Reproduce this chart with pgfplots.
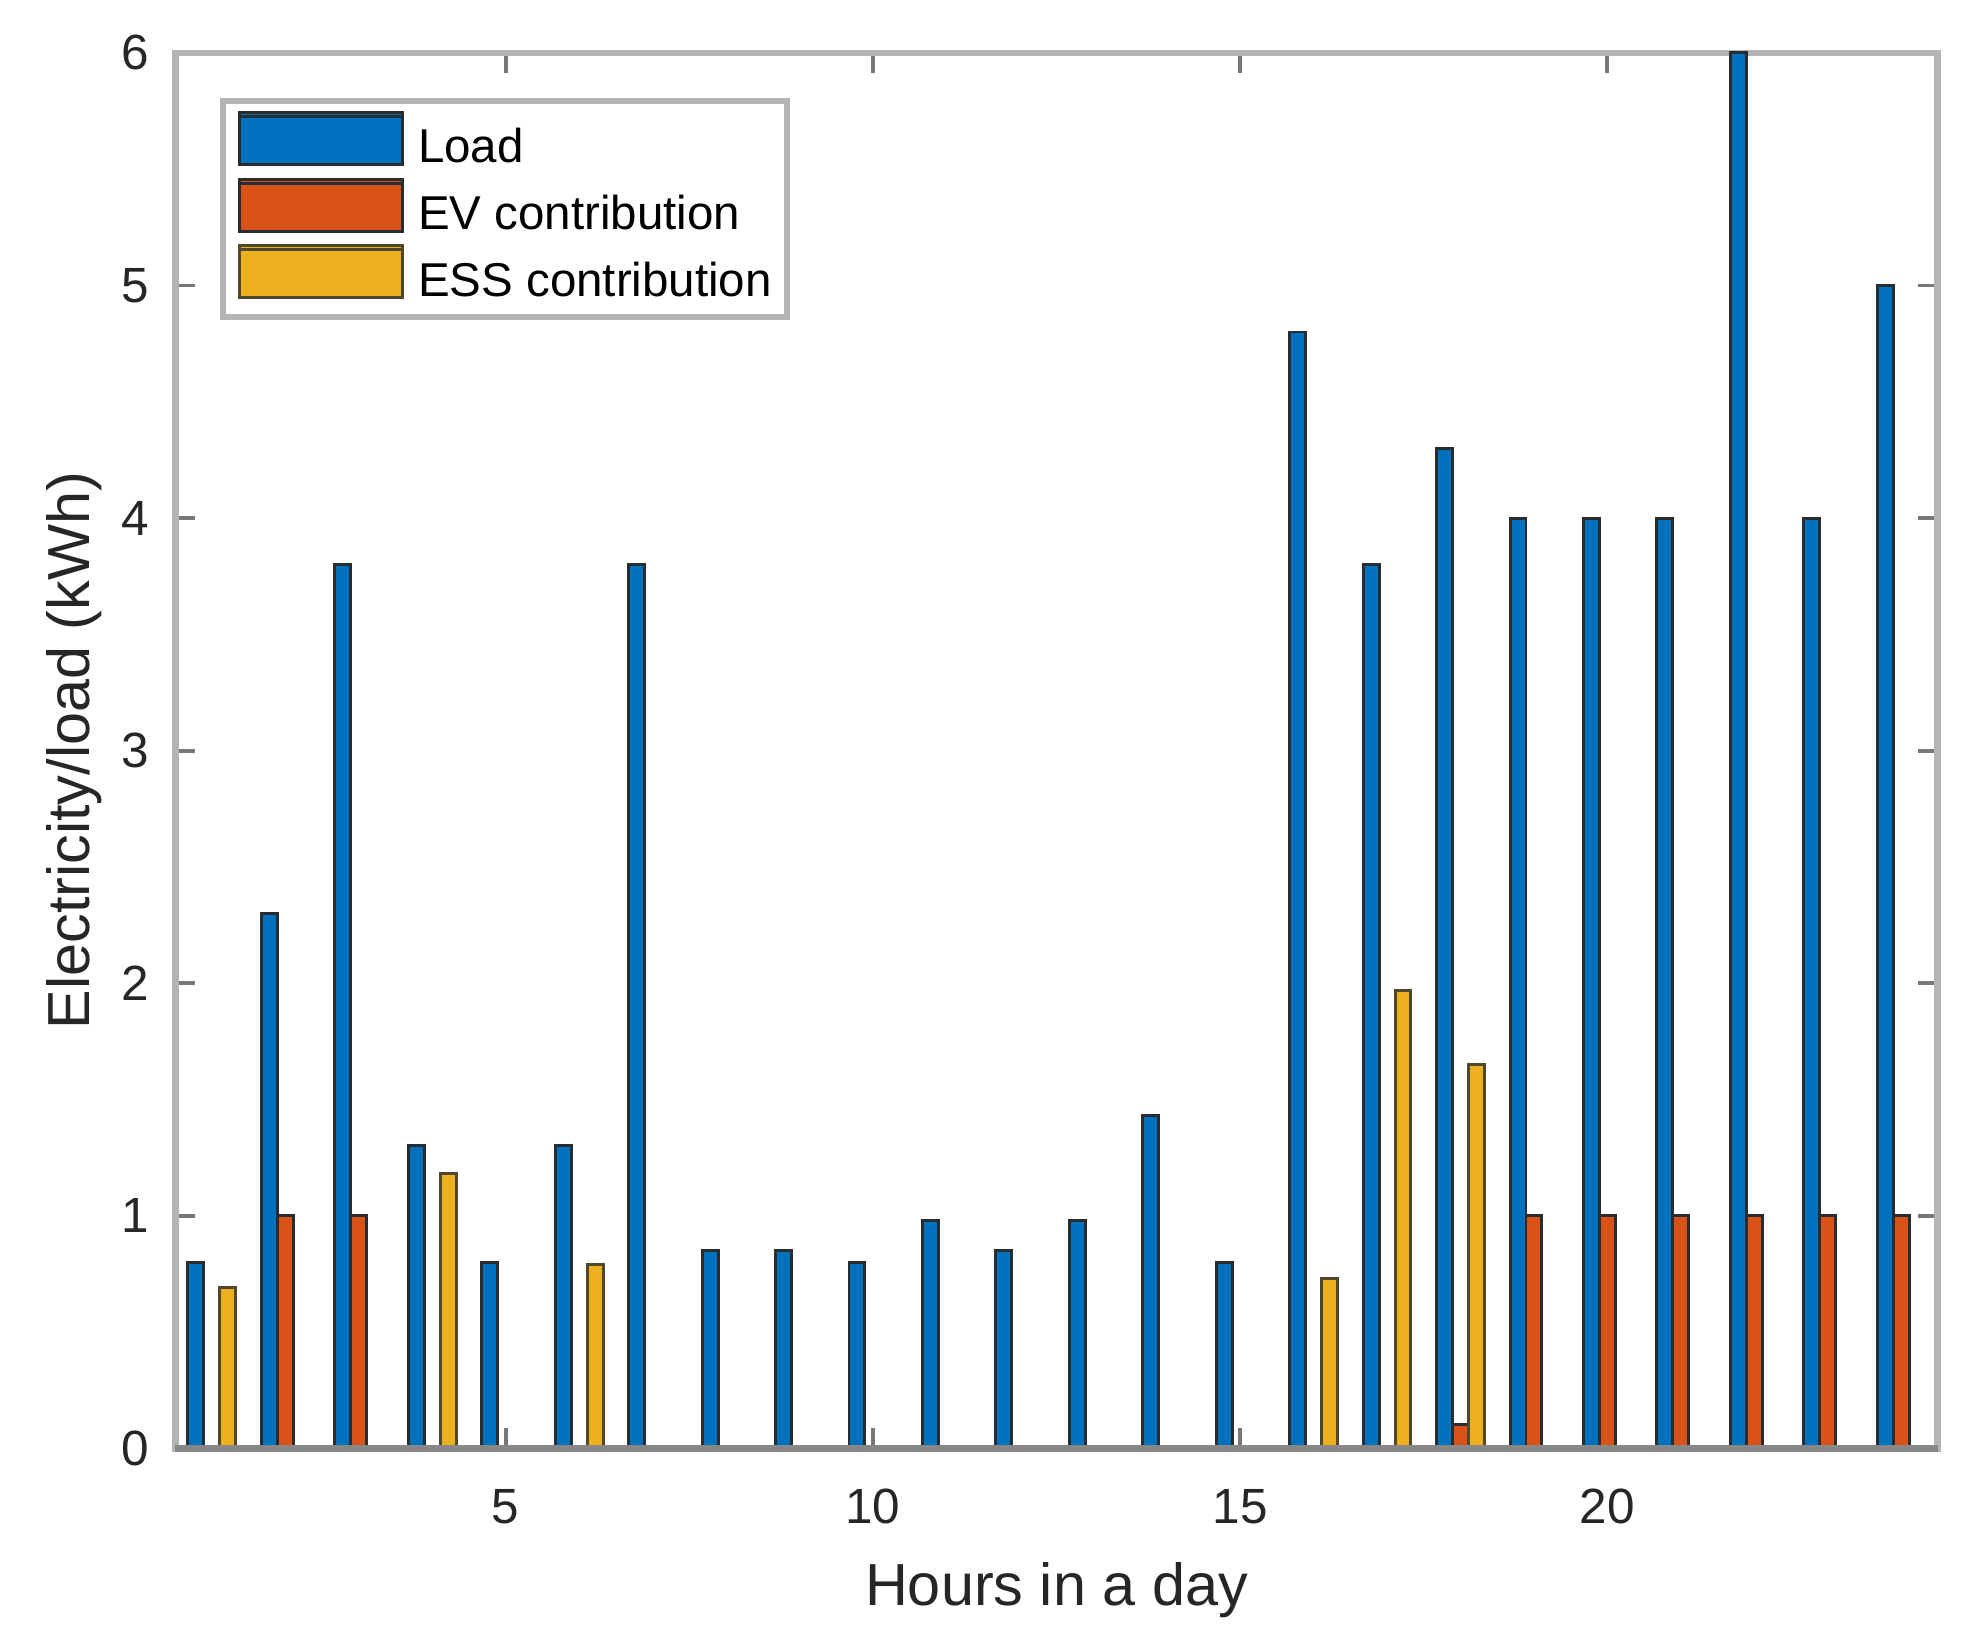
\documentclass[border=0pt]{standalone}
\usepackage{fontspec}
\setmainfont{Liberation Sans}
\usepackage{pgfplots}
\pgfplotsset{compat=1.18}
\definecolor{cLoad}{RGB}{0,114,189}
\definecolor{cEV}{RGB}{217,83,25}
\definecolor{cESS}{RGB}{237,177,32}
\definecolor{frame}{RGB}{180,180,180}
\definecolor{basec}{RGB}{136,136,136}
\definecolor{tickc}{RGB}{120,120,120}
\definecolor{txt}{RGB}{38,38,38}
\definecolor{edge}{RGB}{40,45,50}
\begin{document}
\begin{tikzpicture}
\begin{axis}[
  ybar, bar width=0.217,
  at={(0,0)}, anchor=south west,
  scale only axis, width=356.3pt, height=282pt,
  xmin=0.5, xmax=24.5, ymin=0, ymax=6,
  clip=false,
  xtick={5,10,15,20}, ytick={0,1,2,3,4,5,6},
  tick align=inside, xtick align=inside, ytick align=inside,
  major tick length=4pt,
  xtick pos=both, ytick pos=both,
  major tick style={draw=tickc, line width=0.8pt},
  axis line style={draw=frame, line width=1.4pt},
  /pgf/number format/assume math mode=true,
  tick label style={font=\fontsize{10}{12}\selectfont, text=txt},
  xticklabel style={anchor=base, yshift=-15.2pt},
  yticklabel style={anchor=east, inner sep=0pt, xshift=-5pt},
  xlabel={Hours in a day},
  ylabel={Electricity/load (kWh)},
  label style={font=\fontsize{12}{14}\selectfont, text=txt},
  xlabel style={at={(axis description cs:0.5,-0.1131)}, anchor=base},
  ylabel style={at={(axis description cs:-0.0488,0.5)}, anchor=base},
  legend style={at={(axis description cs:0,1)}, anchor=north west,
    xshift=9.1pt, yshift=-9.1pt, draw=frame, line width=1.2pt,
    font=\fontsize{9.6}{11}\selectfont, inner xsep=3pt, inner ysep=1.55pt,
    column sep=2.8pt, row sep=0pt,
    nodes={inner sep=0pt, outer sep=0pt, text height=10.95pt, text depth=2.55pt}},
  legend cell align=left,
  legend image code/.code={\path (0pt,0pt) rectangle (33pt,6pt); \draw[#1, line width=0.6pt, overlay] (0pt,-4.5pt) rectangle (33pt,5.2pt);},
]
\addplot[fill=cLoad, draw=edge, line width=0.6pt, bar shift=-0.217] coordinates {
(1,0.8) (2,2.3) (3,3.8) (4,1.3) (5,0.8) (6,1.3) (7,3.8) (8,0.85) (9,0.85) (10,0.8)
(11,0.98) (12,0.85) (13,0.98) (14,1.43) (15,0.8) (16,4.8) (17,3.8) (18,4.3) (19,4.0) (20,4.0)
(21,4.0) (22,6.0) (23,4.0) (24,5.0)};
\addplot[fill=cEV, draw=edge, line width=0.6pt, bar shift=0] coordinates {
(1,0) (2,1) (3,1) (4,0) (5,0) (6,0) (7,0) (8,0) (9,0) (10,0)
(11,0) (12,0) (13,0) (14,0) (15,0) (16,0) (17,0) (18,0.1) (19,1) (20,1)
(21,1) (22,1) (23,1) (24,1)};
\addplot[fill=cESS, draw=edge!80!cESS, line width=0.6pt, bar shift=0.217] coordinates {
(1,0.69) (2,0) (3,0) (4,1.18) (5,0) (6,0.79) (7,0) (8,0) (9,0) (10,0)
(11,0) (12,0) (13,0) (14,0) (15,0) (16,0.73) (17,1.97) (18,1.65) (19,0) (20,0)
(21,0) (22,0) (23,0) (24,0)};
\addplot[sharp plot, mark=none, draw=basec, line width=1.4pt, forget plot] coordinates {(0.5,0) (24.5,0)};
\legend{Load, EV contribution, ESS contribution}
\end{axis}
\pgfresetboundingbox
\useasboundingbox (-35.4pt,-39.6pt) rectangle (364.6pt,292.7pt);
\end{tikzpicture}
\end{document}
